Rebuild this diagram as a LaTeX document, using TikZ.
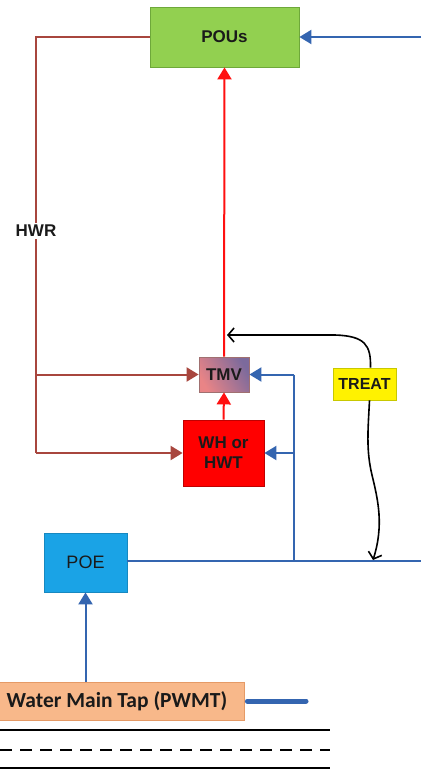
\documentclass[tikz,border=0pt]{standalone}
\usepackage{fontspec}
\setmainfont{Liberation Sans}
\newfontfamily\calib{Carlito}
\usetikzlibrary{arrows.meta}
\definecolor{brn}{HTML}{A8463E}
\definecolor{rd}{HTML}{FF1010}
\definecolor{bl}{HTML}{3465B0}
\definecolor{grn}{HTML}{92D050}
\definecolor{grnb}{HTML}{6EA83A}
\definecolor{whb}{HTML}{C00000}
\definecolor{poef}{HTML}{1AA3E6}
\definecolor{poeb}{HTML}{1788C0}
\definecolor{tapf}{HTML}{F8B88A}
\definecolor{tapb}{HTML}{E59A66}
\definecolor{trb}{HTML}{C8C800}
\definecolor{txt}{HTML}{1A1A1A}
\definecolor{tmvl}{HTML}{E98486}
\definecolor{tmvr}{HTML}{7C6A9C}
\definecolor{tmvb}{HTML}{A07070}
\tikzset{
  box/.style={draw, line width=0.8pt, inner sep=0pt, align=center, text=txt},
  brnline/.style={draw=brn, line width=2pt},
  redline/.style={draw=rd, line width=2pt},
  blline/.style={draw=bl, line width=2pt},
  tipB/.style={-{Triangle[length=12pt,width=14pt]}},
  curv/.style={draw=black, line width=1.6pt, -{Straight Barb[length=6pt,width=14pt,line width=1.6pt]}},
  ground/.style={draw=black, line width=1.6pt}
}
\begin{document}
\begin{tikzpicture}[x=1pt,y=-1pt]
\useasboundingbox[fill=white] (0,0) rectangle (421,770);
% nodes
\node[box, fill=grn, draw=grnb, minimum width=149pt, minimum height=60pt, font=\fontsize{17}{19}\selectfont\bfseries] (pous) at (224.5,37) {POUs};
\node[box, draw=tmvb, left color=tmvl, right color=tmvr, shading angle=120, minimum width=50pt, minimum height=35pt, font=\fontsize{17}{19}\selectfont\bfseries] (tmv) at (224,374.5) {TMV};
\node[box, fill=red, draw=whb, minimum width=81pt, minimum height=66pt, font=\fontsize{17}{20}\selectfont\bfseries] (wh) at (223.5,453) {WH or\\HWT};
\node[box, fill=yellow, draw=trb, minimum width=63pt, minimum height=32pt, font=\fontsize{16}{18}\selectfont\bfseries] (treat) at (364.5,384) {TREAT};
\node[box, fill=poef, draw=poeb, minimum width=83pt, minimum height=59pt, font=\fontsize{18}{20}\selectfont] (poe) at (85.5,562.5) {POE};
\node[box, fill=tapf, draw=tapb, minimum width=254pt, minimum height=38pt, font=\calib\fontsize{21.5}{24}\selectfont\bfseries] (tap) at (117,701) {Water Main Tap (PWMT)};
\node[font=\fontsize{17}{19}\selectfont\bfseries, text=txt, fill=white, inner sep=2pt] (hwr) at (36,231) {HWR};
% coordinates
\coordinate (rtop) at (421,37);
\coordinate (rmid) at (421,561);
\coordinate (ctl) at (36,37);
\coordinate (cbl) at (36,453);
\coordinate (btop) at (294,374.5);
\coordinate (bbot) at (294,561);
\coordinate (tap1) at (227,335);
\coordinate (tap2) at (373,560);
\coordinate (pipeEnd) at (306,701);
% brown return
\draw[brnline] (pous.west) -- (ctl) -- (hwr.north);
\draw[brnline] (hwr.south) -- (cbl);
\draw[brnline, tipB] (ctl |- tmv) -- (tmv.west);
\draw[brnline, tipB] (cbl) -- (wh.west);
% red
\draw[redline, tipB] (tmv.north) -- (pous.south);
\draw[redline, tipB] (wh.north) -- (tmv.south);
% blue
\draw[blline, tipB] (rtop) -- (pous.east);
\draw[blline, tipB] (btop) -- (tmv.east);
\draw[blline, tipB] (btop |- wh) -- (wh.east);
\draw[blline] (btop) -- (bbot);
\draw[blline] (poe.east |- rmid) -- (rmid);
\draw[blline, tipB] (tap.north -| poe) -- (poe.south);
\draw[draw=bl, line width=5pt, line cap=round] ([xshift=3pt]tap.east) -- (pipeEnd);
% treat curves
\draw[curv] ([xshift=6pt]treat.north) .. controls (371,345) and (365,336) .. (335,335) -- (tap1);
\draw[curv] ([xshift=5pt]treat.south) .. controls (368,430) and (366,450) .. (372,475) .. controls (378,500) and (384,525) .. (tap2);
% ground lines
\coordinate (g1a) at (0,730); \coordinate (g1b) at (330,730);
\coordinate (g2a) at (0,750); \coordinate (g2b) at (330,750);
\coordinate (g3a) at (0,768); \coordinate (g3b) at (330,768);
\draw[ground] (g1a) -- (g1b);
\draw[ground, dash pattern=on 12pt off 8pt] (g2a) -- (g2b);
\draw[ground] (g3a) -- (g3b);
\end{tikzpicture}
\end{document}
